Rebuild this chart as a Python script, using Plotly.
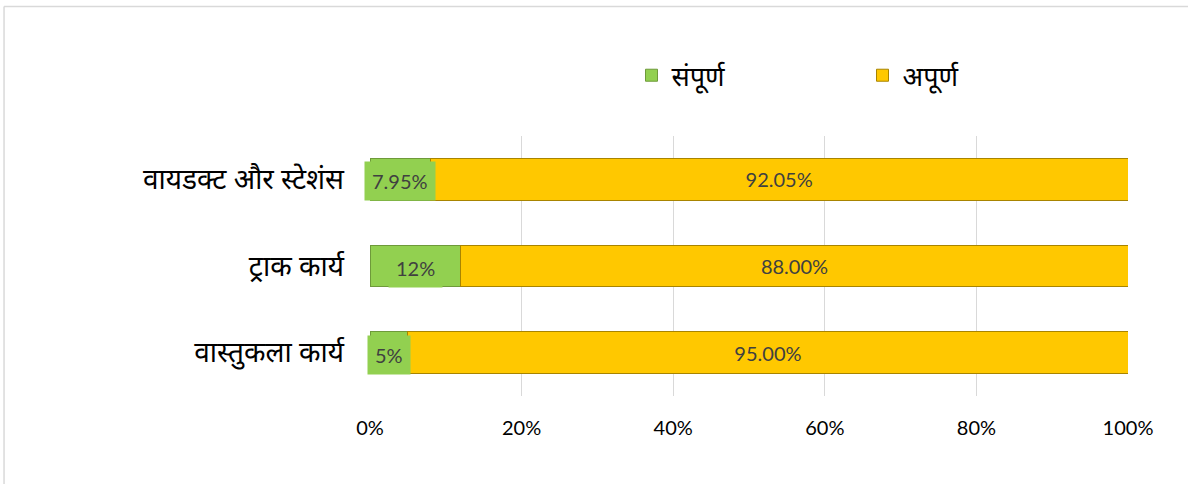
import plotly.graph_objects as go

categories = ["वायडक्ट और स्टेशंस", "ट्राक कार्य", "वास्तुकला कार्य"]
complete = [7.95, 12, 5]
incomplete = [92.05, 88, 95]
complete_labels = ["7.95%", "12%", "5%"]
incomplete_labels = ["92.05%", "88.00%", "95.00%"]
series_names = ["संपूर्ण", "अपूर्ण"]
tick_vals = [0, 20, 40, 60, 80, 100]
tick_text = ["0%", "20%", "40%", "60%", "80%", "100%"]

GREEN = "#92D050"
GOLD = "#FFC800"
DEV_FONT = "Noto Sans Devanagari, Noto Sans, sans-serif"
NUM_FONT = "Lato, Open Sans, sans-serif"

fig = go.Figure()
fig.add_trace(go.Bar(
    y=categories, x=complete, orientation="h", name=series_names[0],
    marker=dict(color=GREEN, line=dict(color="#6E9A3A", width=1)),
    hoverinfo="skip",
))
fig.add_trace(go.Bar(
    y=categories, x=incomplete, orientation="h", name=series_names[1],
    marker=dict(color=GOLD, line=dict(color="#A88400", width=1)),
    text=incomplete_labels, textposition="inside", insidetextanchor="middle",
    textfont=dict(family=NUM_FONT, size=20, color="#404040"),
    hoverinfo="skip",
))

for cat, val, lab in zip(categories, complete, complete_labels):
    fig.add_annotation(
        x=val / 2, y=cat, xref="x", yref="y", text=lab, showarrow=False,
        font=dict(family=NUM_FONT, size=20, color="#404040"),
        bgcolor=GREEN, borderpad=7, yshift=-2,
    )

# outer chart border (top and left)
fig.add_shape(type="line", xref="paper", yref="paper",
              x0=-0.4828, x1=1.09, y0=1.498, y1=1.498,
              line=dict(color="#D9D9D9", width=1.5))
fig.add_shape(type="line", xref="paper", yref="paper",
              x0=-0.4828, x1=-0.4828, y0=-0.4, y1=1.498,
              line=dict(color="#D9D9D9", width=1.5))

fig.update_layout(
    width=1188, height=484,
    barmode="stack", bargap=0.52,
    paper_bgcolor="white", plot_bgcolor="white",
    margin=dict(l=370, r=60, t=136, b=88),
    showlegend=True,
    legend=dict(orientation="h", x=0.345, y=1.232, xanchor="left", yanchor="middle",
                entrywidth=186, entrywidthmode="pixels", traceorder="normal",
                font=dict(family=DEV_FONT, size=27, color="#000000"),
                itemclick=False, itemdoubleclick=False),
    xaxis=dict(range=[0, 100], tickvals=tick_vals, ticktext=tick_text,
               showgrid=True, gridcolor="#D9D9D9", gridwidth=1,
               zeroline=False, showline=False,
               tickfont=dict(family=NUM_FONT, size=20, color="#000000"),
               ticklabelstandoff=18, fixedrange=True),
    yaxis=dict(autorange="reversed", showgrid=False, showline=False,
               tickfont=dict(family=DEV_FONT, size=28, color="#000000"),
               ticklabelstandoff=25, fixedrange=True),
)

fig.write_html("out.html", config={"displayModeBar": False},
               post_script="document.body.style.margin='0';")
